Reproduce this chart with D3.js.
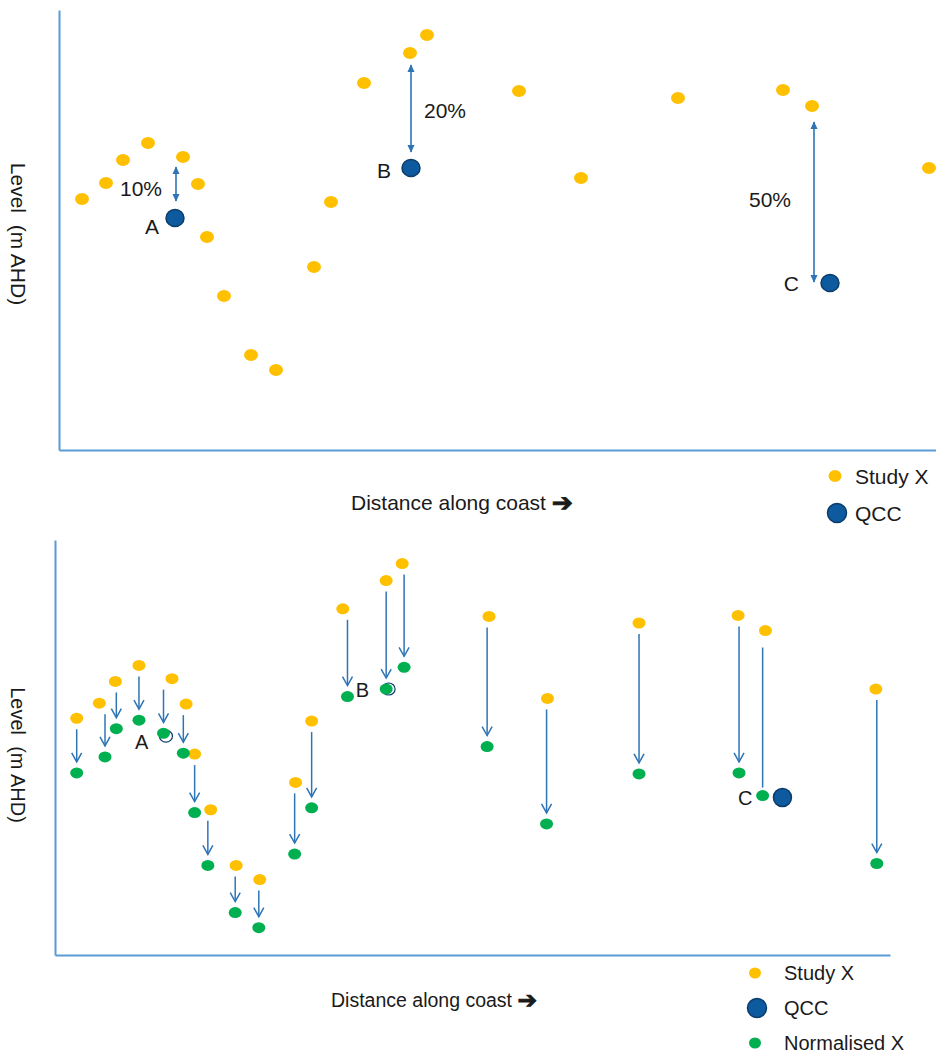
<!DOCTYPE html>
<html>
<head>
<meta charset="utf-8">
<script src="https://cdn.jsdelivr.net/npm/d3@7"></script>
<style>
  html, body { margin: 0; padding: 0; background: #fff; }
  svg { display: block; }
  text { font-family: "Liberation Sans", Arial, sans-serif; fill: #1a1a1a; }
</style>
</head>
<body>
<svg id="chart" width="936" height="1056"></svg>
<script>
// ---------------- DATA (schematic units) ----------------
const studyDistance = [23, 47, 64, 89, 124, 139, 148, 165, 192, 217, 255, 272, 305, 351, 368, 460, 522, 619, 724, 753, 870];
const studyLevel    = [251, 267, 290, 307, 293, 266, 213, 154, 95, 80, 183, 248, 367, 397, 415, 359, 272, 352, 360, 344, 282];

const normDistance  = [23, 53, 65, 89, 115, 136, 148, 162, 191, 216, 254, 272, 310, 351, 370, 458, 521, 619, 725, 750, 871];
const normLevel     = [193, 210, 240, 249, 235, 214, 151, 95, 45, 29, 107, 156, 274, 282, 305, 221, 139, 192, 193, 169, 97];

const qccLabels   = ["A", "B", "C"];
const qccDistance = [116, 352, 771];
const qccLevel    = [232, 282, 167];

// difference annotations in the top panel
const diffLabels   = ["10%", "20%", "50%"];
const diffDistance = [117, 352, 755];
const diffFrom     = [283, 385, 328];
const diffTo       = [249, 298, 168];

// which normalisation arrows are drawn without a head (the one meeting C)
const plainArrow = [false,false,false,false,false,false,false,false,false,false,false,false,false,false,false,false,false,false,false,true,false];

const legendTop    = ["Study X", "QCC"];
const legendBottom = ["Study X", "QCC", "Normalised X"];
const xTitle = "Distance along coast";
const xTitleArrow = "\u2794";
const yTitle = "Level  (m AHD)";

// ---------------- STYLE ----------------
const COL = {
  yellow: "#FFC000", green: "#00B050", qcc: "#0E5A9E", qccStroke: "#0A3C6C",
  axis: "#5B9BD5", arrow: "#2E75B6"
};

const svg = d3.select("#chart");
const defs = svg.append("defs");
defs.append("marker").attr("id", "tri")
  .attr("viewBox", "0 -5 10 10").attr("refX", 9).attr("refY", 0)
  .attr("markerUnits", "userSpaceOnUse").attr("markerWidth", 8).attr("markerHeight", 8)
  .attr("orient", "auto-start-reverse")
  .append("path").attr("d", "M0,-4.5L10,0L0,4.5Z").attr("fill", COL.arrow);
defs.append("marker").attr("id", "open")
  .attr("viewBox", "-1 -6 12 12").attr("refX", 9).attr("refY", 0)
  .attr("markerUnits", "userSpaceOnUse").attr("markerWidth", 12).attr("markerHeight", 12)
  .attr("orient", "auto")
  .append("path").attr("d", "M0,-5L9,0L0,5").attr("fill", "none")
  .attr("stroke", COL.arrow).attr("stroke-width", 1.5);

const study = studyDistance.map((d, i) => ({d, l: studyLevel[i]}));
const norm  = normDistance.map((d, i) => ({d, l: normLevel[i], plain: plainArrow[i]}));
const qcc   = qccLabels.map((k, i) => ({k, d: qccDistance[i], l: qccLevel[i]}));

function drawAxes(x, y, g) {
  const ax = g.append("g").attr("transform", `translate(0,${y.range()[0]})`)
    .call(d3.axisBottom(x).tickValues([]).tickSizeOuter(0));
  const ay = g.append("g").attr("transform", `translate(${x.range()[0]},0)`)
    .call(d3.axisLeft(y).tickValues([]).tickSizeOuter(0));
  [ax, ay].forEach(a => a.select(".domain").attr("stroke", COL.axis).attr("stroke-width", 2));
}

function xTitleText(g, x, y, size) {
  const t = g.append("text").attr("x", x).attr("y", y).attr("dominant-baseline", "central")
    .attr("font-size", size).style("white-space", "pre");
  t.append("tspan").text(xTitle + " ");
  t.append("tspan").attr("font-family", "DejaVu Sans").attr("font-weight", "bold")
    .attr("stroke", "#1a1a1a").attr("stroke-width", 0.9)
    .attr("font-size", size * 1.2).text(xTitleArrow);
}

// ---------------- TOP PANEL ----------------
const xT = d3.scaleLinear().domain([0, 877]).range([59, 936]);
const yT = d3.scaleLinear().domain([0, 440]).range([450, 10]);

const topG = svg.append("g");
drawAxes(xT, yT, topG);

topG.selectAll("ellipse.study").data(study).join("ellipse")
  .attr("cx", p => xT(p.d)).attr("cy", p => yT(p.l)).attr("rx", 7).attr("ry", 6)
  .attr("fill", COL.yellow);

topG.selectAll("ellipse.qcc").data(qcc).join("ellipse")
  .attr("cx", p => xT(p.d)).attr("cy", p => yT(p.l)).attr("rx", 9).attr("ry", 8.5)
  .attr("fill", COL.qcc).attr("stroke", COL.qccStroke).attr("stroke-width", 1.5);

const topLabelOffset = {A: [-16, 8], B: [-20, 2], C: [-31, 0]};
topG.selectAll("text.q").data(qcc).join("text")
  .attr("x", p => xT(p.d) + topLabelOffset[p.k][0]).attr("y", p => yT(p.l) + topLabelOffset[p.k][1])
  .attr("text-anchor", "end").attr("dominant-baseline", "central")
  .attr("font-size", 21).text(p => p.k);

const diffs = diffLabels.map((t, i) => ({t, d: diffDistance[i], a: diffFrom[i], b: diffTo[i]}));
topG.selectAll("line.diff").data(diffs).join("line")
  .attr("x1", p => xT(p.d)).attr("x2", p => xT(p.d))
  .attr("y1", p => yT(p.a)).attr("y2", p => yT(p.b))
  .attr("stroke", COL.arrow).attr("stroke-width", 1.6)
  .attr("marker-start", "url(#tri)").attr("marker-end", "url(#tri)");
const diffSide = [[-14, "end", 4], [13, "start", 2], [-23, "end", -3]];
topG.selectAll("text.diff").data(diffs).join("text")
  .attr("x", (p, i) => xT(p.d) + diffSide[i][0])
  .attr("y", (p, i) => (yT(p.a) + yT(p.b)) / 2 + diffSide[i][2])
  .attr("text-anchor", (p, i) => diffSide[i][1]).attr("dominant-baseline", "central")
  .attr("font-size", 21).text(p => p.t);

xTitleText(topG, 351, 502, 21);
topG.append("text").attr("transform", "translate(18,234) rotate(90)")
  .attr("text-anchor", "middle").attr("dominant-baseline", "central")
  .style("white-space", "pre").attr("font-size", 21).text(yTitle);

// top legend
const lt = topG.append("g");
lt.append("ellipse").attr("cx", 835).attr("cy", 476).attr("rx", 6.5).attr("ry", 6).attr("fill", COL.yellow);
lt.append("circle").attr("cx", 837).attr("cy", 513).attr("r", 9.5).attr("fill", COL.qcc).attr("stroke", COL.qccStroke).attr("stroke-width", 1.5);
lt.selectAll("text").data(legendTop).join("text")
  .attr("x", 855).attr("y", (d, i) => 476 + i * 37).attr("dominant-baseline", "central")
  .attr("font-size", 21).text(d => d);

// ---------------- BOTTOM PANEL ----------------
const xB = d3.scaleLinear().domain([0, 885]).range([55, 890]);
const yB = d3.scaleLinear().domain([0, 440]).range([955, 540]);

const botG = svg.append("g");
drawAxes(xB, yB, botG);

// normalisation arrows
botG.selectAll("line.norm").data(norm).join("line")
  .attr("x1", p => xB(p.d)).attr("x2", p => xB(p.d))
  .attr("y1", (p, i) => yB(study[i].l) + (p.plain ? 17 : 11))
  .attr("y2", p => yB(p.l) - (p.plain ? 8 : 11))
  .attr("stroke", COL.arrow).attr("stroke-width", 1.5)
  .attr("marker-end", p => p.plain ? null : "url(#open)");

botG.selectAll("ellipse.study").data(study).join("ellipse")
  .attr("cx", p => xB(p.d)).attr("cy", p => yB(p.l)).attr("rx", 6.5).attr("ry", 5.5)
  .attr("fill", COL.yellow);

// QCC points in bottom panel (A and B largely hidden under normalised points)
botG.selectAll("ellipse.qcc").data(qcc).join("ellipse")
  .attr("cx", p => xB(p.d) + (p.k === "C" ? 0 : 1.5)).attr("cy", p => yB(p.l))
  .attr("rx", p => p.k === "C" ? 9 : 6.5).attr("ry", p => p.k === "C" ? 9 : 6)
  .attr("fill", p => p.k === "C" ? COL.qcc : "#fff")
  .attr("stroke", COL.qccStroke).attr("stroke-width", p => p.k === "C" ? 1.5 : 1.2);

botG.selectAll("ellipse.norm").data(norm).join("ellipse")
  .attr("cx", p => xB(p.d)).attr("cy", p => yB(p.l)).attr("rx", 6.5).attr("ry", 5.5)
  .attr("fill", COL.green);

const botLabelOffset = {A: [-16, 6], B: [-18, 1], C: [-30, 1]};
botG.selectAll("text.q").data(qcc).join("text")
  .attr("x", p => xB(p.d) + botLabelOffset[p.k][0]).attr("y", p => yB(p.l) + botLabelOffset[p.k][1])
  .attr("text-anchor", "end").attr("dominant-baseline", "central")
  .attr("font-size", 20).text(p => p.k);

xTitleText(botG, 331, 1000, 19.5);
botG.append("text").attr("transform", "translate(18,755) rotate(90)")
  .attr("text-anchor", "middle").attr("dominant-baseline", "central")
  .style("white-space", "pre").attr("font-size", 20).text(yTitle);

// bottom legend
const lb = botG.append("g");
const lbY = [973, 1008, 1043];
lb.append("ellipse").attr("cx", 755).attr("cy", lbY[0]).attr("rx", 6).attr("ry", 5.5).attr("fill", COL.yellow);
lb.append("circle").attr("cx", 757).attr("cy", lbY[1]).attr("r", 9.5).attr("fill", COL.qcc).attr("stroke", COL.qccStroke).attr("stroke-width", 1.5);
lb.append("ellipse").attr("cx", 755).attr("cy", lbY[2]).attr("rx", 6).attr("ry", 5.5).attr("fill", COL.green);
lb.selectAll("text").data(legendBottom).join("text")
  .attr("x", 784).attr("y", (d, i) => lbY[i]).attr("dominant-baseline", "central")
  .attr("font-size", 20).text(d => d);
</script>
</body>
</html>
